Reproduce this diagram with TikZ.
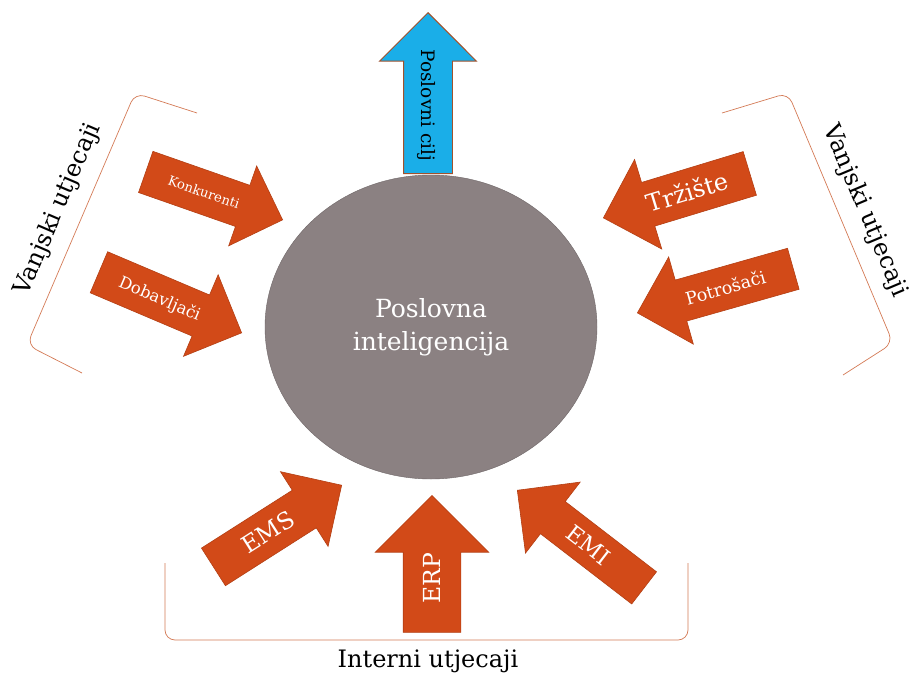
\documentclass[tikz,border=0pt]{standalone}
\usepackage{fontspec}
\setmainfont{DejaVu Serif}
\usepackage{tikz}
\usetikzlibrary{shapes.arrows,shapes.geometric}
\definecolor{rust}{HTML}{D24A18}
\definecolor{rustedge}{HTML}{B33F14}
\definecolor{skyblue}{HTML}{1AAEE8}
\definecolor{skyedge}{HTML}{A0522D}
\definecolor{mauve}{HTML}{8B8182}
\definecolor{mauveedge}{HTML}{6F6768}
\definecolor{bracketline}{HTML}{D47A55}
\tikzset{
  inflow/.style n args={4}{single arrow, draw=rustedge, fill=rust, text=white,
    line width=0.6pt, inner xsep=2pt, inner ysep=0pt,
    font=\fontsize{#4}{#4}\selectfont,
    text height={#1/2+0.36*#4}, text depth={#1/2-0.36*#4},
    single arrow head extend={(#2-#1)/2}, minimum height=#3},
  brace/.style={draw=bracketline, line width=0.7pt, rounded corners=10pt},
  sidelabel/.style={font=\fontsize{24}{24}\selectfont, text=black}
}

\begin{document}
\begin{tikzpicture}[x=1pt, y=-1pt]
        \path[use as bounding box, fill=white] (0,0) rectangle (911,675);
        \node[ellipse, minimum width=332pt, minimum height=304pt, inner sep=0pt,
              fill=mauve, draw=mauveedge, text=white, align=center,
              font=\fontsize{25}{33}\selectfont] (bi) at (431,327) {Poslovna\\inteligencija};
        \node[inflow={48}{96}{161}{18.5}, fill=skyblue, draw=skyedge, line width=0.9pt, text=black,
              rotate=-90, shape border rotate=180, anchor=tip] (cilj) at (428,12) {Poslovni cilj};
        \node[inflow={43}{84}{145}{13.2}, rotate=-19.3, anchor=tip] (konkurenti) at (283,220) {Konkurenti};
        \node[inflow={44}{88}{155}{16.4}, rotate=-23, anchor=tip] (dobavljaci) at (242,333) {Dobavljači};
        \node[inflow={45}{93}{153}{24}, rotate=16.9, shape border rotate=180, anchor=tip] (trziste) at (603,218) {Tržište};
        \node[inflow={42}{90}{162}{17.5}, rotate=15.8, shape border rotate=180, anchor=tip] (potrosaci) at (637,313) {Potrošači};
        \node[inflow={44}{88}{152}{23.5}, rotate=32.5, anchor=tip] (ems) at (342,485) {EMS};
        \node[inflow={57}{113}{137}{23.5}, rotate=90, anchor=tip] (erp) at (432,495) {ERP};
        \node[inflow={40}{89}{160}{22.5}, rotate=-37.6, shape border rotate=180, anchor=tip] (emi) at (517,490) {EMI};
        \draw[brace] (197,113) -- (135,93) -- (27,345) -- (82,373);
        \draw[brace] (722,113) -- (788,93) -- (893,343) -- (843,375);
        \draw[brace] (165,563) -- (165,640) -- (688,640) -- (688,563);
        \node[sidelabel, rotate=66.8] (vanjskil) at (58,209) {Vanjski utjecaji};
        \node[sidelabel, rotate=-67.2] (vanjskid) at (865,211) {Vanjski utjecaji};
        \node[sidelabel, anchor=base] (interni) at (428,667) {Interni utjecaji};
\end{tikzpicture}
\end{document}
